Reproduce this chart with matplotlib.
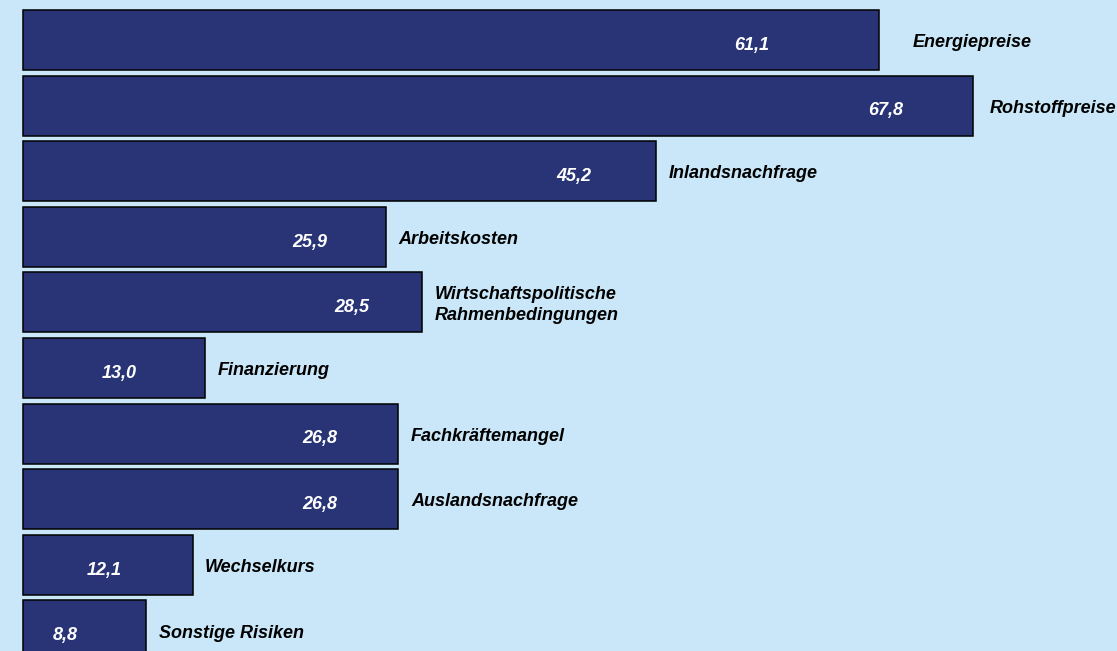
import matplotlib.pyplot as plt

# Daten
kategorien = ["Energiepreise", "Rohstoffpreise", "Inlandsnachfrage", "Arbeitskosten",
              "Wirtschaftspolitische\nRahmenbedingungen", "Finanzierung", "Fachkräftemangel",
              "Auslandsnachfrage", "Wechselkurs", "Sonstige Risiken"]
werte = [61.1, 67.8, 45.2, 25.9, 28.5, 13.0, 26.8, 26.8, 12.1, 8.8]

# Abstände der Beschriftungen (in Achseneinheiten)
wert_abstand = [9.1, 6.2, 5.9, 5.4, 5.0, 6.1, 5.6, 5.6, 6.3, 5.8]
name_abstand = [2.4, 1.2, 0.9, 0.9, 0.9, 0.9, 0.9, 0.9, 0.9, 0.9]

hintergrund = "#C9E7F8"
balken_farbe = "#283476"

fig = plt.figure(figsize=(11.17, 6.51), dpi=100, facecolor=hintergrund)
ax = fig.add_axes([0, 0, 1, 1])
ax.set_facecolor(hintergrund)

y = list(range(len(werte)))
ax.barh(y, werte, height=0.915, color=balken_farbe, edgecolor="black", linewidth=1.1)

for i, (v, name) in enumerate(zip(werte, kategorien)):
    ax.text(v - wert_abstand[i], i + 0.08, f"{v:.1f}".replace(".", ","),
            color="white", fontsize=13, fontweight="bold", fontstyle="italic",
            family="Liberation Sans", ha="center", va="center")
    ax.text(v + name_abstand[i], i + 0.04, name, color="black", fontsize=13,
            fontweight="bold", fontstyle="italic", family="Liberation Sans",
            ha="left", va="center", linespacing=1.25)

ax.set_xlim(-23 / 14.01, (1117 - 23) / 14.01)
ax.set_ylim((651 - 40) / 65.6, -40 / 65.6)
ax.axis("off")

fig.savefig("out.png", dpi=100, facecolor=hintergrund)
